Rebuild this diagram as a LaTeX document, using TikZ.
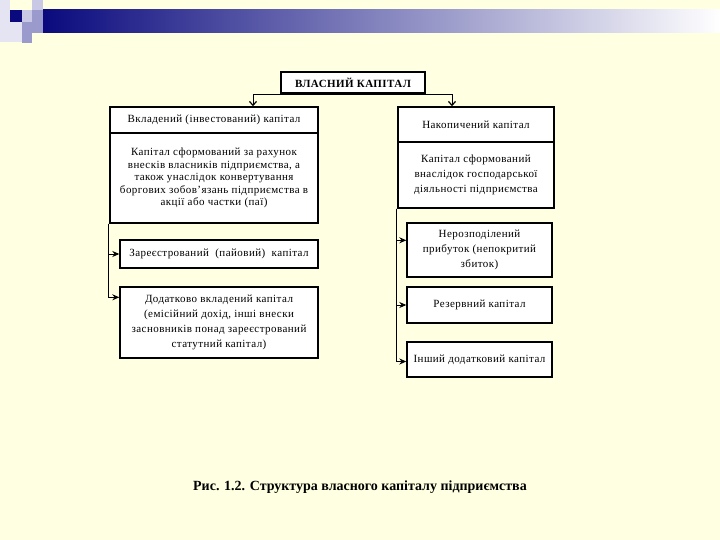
\documentclass[tikz,border=0pt]{standalone}
\usepackage{fontspec}
\setmainfont{Liberation Serif}
\usepackage{xcolor}
\usetikzlibrary{arrows.meta, positioning}
\definecolor{slidebg}{HTML}{FFFFE1}
\definecolor{navyblk}{HTML}{0A0A7E}
\definecolor{lavlight}{HTML}{C9C9E6}
\definecolor{lavmid}{HTML}{9A9ACC}
\definecolor{lavpale}{HTML}{E4E4F2}

\begin{document}
\begin{tikzpicture}[
  x=1pt, y=-1pt,
  font=\fontsize{11}{15}\selectfont\addfontfeatures{LetterSpace=4},
  every node/.style={align=center},
  box/.style={rectangle, draw, line width=1.4pt, fill=white, inner sep=2pt},
  arr/.style={-{Stealth[length=7pt,width=6pt]}, line width=0.9pt},
  toparr/.style={-{Straight Barb[length=4pt,width=7pt,line width=1.2pt]}, line width=1pt}
]
  \useasboundingbox[fill=slidebg] (0,0) rectangle (720,540);

  % slide decoration
  \fill[lavpale] (0,0) rectangle (10,42);
  \fill[lavpale] (10,22) rectangle (22,42);
  \fill[navyblk] (10,10) rectangle (22,22);
  \fill[lavlight] (22,10) rectangle (32,22);
  \fill[lavlight] (32,0) rectangle (43,10);
  \fill[lavmid] (32,10) rectangle (43,22);
  \fill[lavmid] (22,22) rectangle (43,33);
  \fill[lavmid] (22,33) rectangle (32,43);
  \shade[left color=navyblk, right color=white] (43,10) rectangle (720,33);

  % boxes
  \node[box, minimum width=144pt, minimum height=21pt, font=\fontsize{11}{12}\selectfont\bfseries\addfontfeatures{LetterSpace=4}] (vlas) at (353,82.5) {ВЛАСНИЙ КАПІТАЛ};

  \node[box, minimum width=208pt, minimum height=26pt] (vkl) at (214,120) {Вкладений (інвестований) капітал};
  \node[box, minimum width=208pt, minimum height=90pt, font=\fontsize{11}{12.5}\selectfont\addfontfeatures{LetterSpace=4}] (vklopys) at (214,178) {Капітал сформований за рахунок\\внесків власників підприємства, а\\також унаслідок конвертування\\боргових зобов’язань підприємства в\\акції або частки (паї)};
  \node[box, minimum width=198pt, minimum height=28pt] (zar) at (219,254) {Зареєстрований\ \ (пайовий)\ \ капітал};
  \node[box, minimum width=198pt, minimum height=71pt] (dod) at (219,322.5) {Додатково вкладений капітал\\(емісійний дохід, інші внески\\засновників понад зареєстрований\\статутний капітал)};

  \node[box, minimum width=156pt, minimum height=35pt] (nak) at (476,124.5) {Накопичений капітал};
  \node[box, minimum width=156pt, minimum height=66pt] (nakopys) at (476,175) {Капітал сформований\\внаслідок господарської\\діяльності підприємства};
  \node[box, minimum width=145pt, minimum height=54pt] (nerozp) at (479.5,250) {Нерозподілений\\прибуток (непокритий\\збиток)};
  \node[box, minimum width=145pt, minimum height=36pt] (rez) at (479.5,305) {Резервний капітал};
  \node[box, minimum width=145pt, minimum height=35pt] (insh) at (479.5,359.5) {Інший додатковий капітал};

  \node[font=\fontsize{14}{16}\selectfont\bfseries] (caption) at (360,487) {Рис. 1.2. Структура власного капіталу підприємства};

  % connectors
  \draw[toparr] ([yshift=-1pt]vlas.south) -| ([xshift=39pt]vkl.north);
  \draw[toparr] ([yshift=-1pt]vlas.south) -| ([xshift=-24pt]nak.north);

  \draw[arr] ([xshift=-1pt]vklopys.south west) |- (zar.west);
  \draw[arr] ([xshift=-1pt]vklopys.south west) |- ([yshift=-11pt]dod.north west);

  \draw[arr] ([xshift=-1pt]nakopys.south west) |- ([yshift=-18pt]nerozp.north west);
  \draw[arr] ([xshift=-1pt]nakopys.south west) |- (rez.west);
  \draw[arr] ([xshift=-1pt]nakopys.south west) |- ([yshift=-2pt]insh.west);
\end{tikzpicture}
\end{document}
